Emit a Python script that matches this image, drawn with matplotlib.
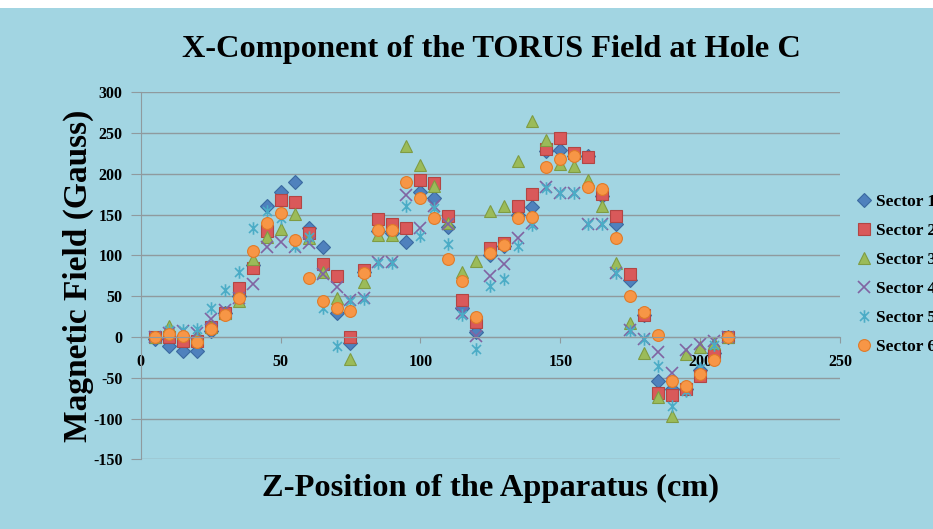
import matplotlib
matplotlib.use("Agg")
import matplotlib.pyplot as plt
from matplotlib.path import Path
from matplotlib.patches import Rectangle

plt.rcParams["axes.unicode_minus"] = False

z_cm = [5, 10, 15, 20, 25, 30, 35, 40, 45, 50, 55, 60, 65, 70, 75, 80, 85, 90, 95, 100,
        105, 110, 115, 120, 125, 130, 135, 140, 145, 150, 155, 160, 165, 170, 175, 180,
        185, 190, 195, 200, 205, 210]

sector1 = [-2, -11, -17, -17, 7, 30, 50, 88, 160, 178, 190, 133, 110, 30, -7, 80, 130, 128, 117, 178,
           171, 135, 35, 6, 101, 112, 150, 159, 228, 229, 222, 222, 173, 139, 70, 27,
           -54, -64, -64, -40, -20, 0]
sector2 = [0, 0, -5, -5, 12, 30, 60, 85, 130, 168, 165, 127, 90, 75, 0, 82, 145, 139, 134, 193,
           189, 148, 45, 18, 109, 115, 160, 175, 230, 244, 226, 221, 175, 148, 77, 27,
           -69, -71, -64, -48, -22, 0]
sector3 = [0, 14, 5, 2, 12, 30, 44, 95, 123, 132, 151, 121, 80, 48, -27, 67, 125, 125, 234, 211,
           185, 140, 80, 93, 154, 161, 216, 265, 242, 212, 210, 193, 161, 91, 17, -20,
           -74, -97, -21, -12, -7, 0]
sector4 = [0, 5, 7, 5, 22, 33, 48, 65, 110, 117, 110, 115, 77, 61, 45, 48, 92, 92, 174, 134,
           160, 138, 30, 1, 75, 90, 121, 140, 184, 176, 176, 138, 139, 78, 8, -3,
           -19, -44, -16, -9, -5, 0]
sector5 = [0, 8, 8, 10, 36, 58, 80, 134, 155, 146, 112, 122, 36, -11, 44, 47, 91, 91, 160, 124,
           158, 114, 27, -15, 62, 71, 111, 137, 183, 176, 176, 138, 139, 78, 7, -3,
           -35, -85, -66, -38, -10, 0]
sector6 = [0, 4, 1, -6, 10, 27, 48, 105, 140, 152, 119, 72, 44, 36, 32, 79, 131, 131, 190, 170,
           146, 95, 69, 24, 103, 113, 146, 147, 208, 218, 222, 184, 181, 121, 50, 31,
           2, -54, -60, -45, -28, 0]

series_labels = ["Sector 1", "Sector 2", "Sector 3", "Sector 4", "Sector 5", "Sector 6"]
x_ticks = [0, 50, 100, 150, 200, 250]
y_ticks = [-150, -100, -50, 0, 50, 100, 150, 200, 250, 300]

BG = "#A2D5E2"
GRID = "#8f9a9e"
SERIF = ["Liberation Serif", "DejaVu Serif"]

# asterisk marker: vertical bar plus an X
ast = Path([(0, -1), (0, 1), (-0.72, -0.72), (0.72, 0.72), (-0.72, 0.72), (0.72, -0.72)],
           [Path.MOVETO, Path.LINETO, Path.MOVETO, Path.LINETO, Path.MOVETO, Path.LINETO])

styles = [
    dict(marker="D", ms=7, mfc="#4F81BD", mec="#3B6AA0", mew=0.8),
    dict(marker="s", ms=8.5, mfc="#D9595A", mec="#B24644", mew=0.8),
    dict(marker="^", ms=8.5, mfc="#9BBB59", mec="#7F9C43", mew=0.8),
    dict(marker="x", ms=8, mfc="none", mec="#8064A2", mew=1.2),
    dict(marker=ast, ms=9, mfc="none", mec="#4BACC6", mew=1.2),
    dict(marker="o", ms=8.5, mfc="#F79646", mec="#E07B28", mew=0.8),
]

fig = plt.figure(figsize=(9.33, 5.29), dpi=100)
fig.patch.set_facecolor(BG)
fig.patches.append(Rectangle((0, 1 - 8 / 529), 1, 8 / 529, transform=fig.transFigure,
                             facecolor="white", edgecolor="none", zorder=0))

ax = fig.add_axes([140.7 / 933, 1 - 459.3 / 529, (840 - 140.7) / 933, (459.3 - 92.3) / 529])
ax.set_facecolor(BG)

data = [sector1, sector2, sector3, sector4, sector5, sector6]
for vals, lab, st in zip(data, series_labels, styles):
    ax.plot(z_cm, vals, linestyle="none", label=lab, clip_on=False, **st)

ax.set_xlim(0, 250)
ax.set_ylim(-150, 300)
ax.set_xticks(x_ticks)
ax.set_yticks(y_ticks)
ax.grid(axis="y", color=GRID, linewidth=1)
ax.set_axisbelow(True)

for s in ["top", "right"]:
    ax.spines[s].set_visible(False)
ax.spines["left"].set_color(GRID)
ax.spines["bottom"].set_color(GRID)
ax.spines["bottom"].set_position(("data", 0))
ax.tick_params(axis="y", direction="out", length=7, color=GRID, pad=6)
ax.tick_params(axis="x", direction="out", length=4, color=GRID, pad=8)

for lbl in ax.get_xticklabels() + ax.get_yticklabels():
    lbl.set_fontfamily(SERIF)
    lbl.set_fontweight("bold")
    lbl.set_fontsize(11.5)

fig.text(491 / 933, 1 - 50 / 529, "X-Component of the TORUS Field at Hole C",
         ha="center", va="center", fontsize=23.3, fontweight="bold", family=SERIF)
fig.text(490 / 933, 1 - 488 / 529, "Z-Position of the Apparatus (cm)",
         ha="center", va="center", fontsize=23.4, fontweight="bold", family=SERIF)
fig.text(78 / 933, 1 - 276 / 529, "Magnetic Field (Gauss)", rotation=90,
         ha="center", va="center", fontsize=24, fontweight="bold", family=SERIF)

leg = fig.legend(loc="upper left", bbox_to_anchor=(857 / 933, 1 - 194 / 529),
                 frameon=False, handlelength=0.8, handletextpad=0.3, labelspacing=0.74,
                 borderaxespad=0, borderpad=0,
                 prop=dict(family=SERIF, weight="bold", size=12.5))

fig.savefig("out.png", dpi=100, facecolor=fig.get_facecolor())
